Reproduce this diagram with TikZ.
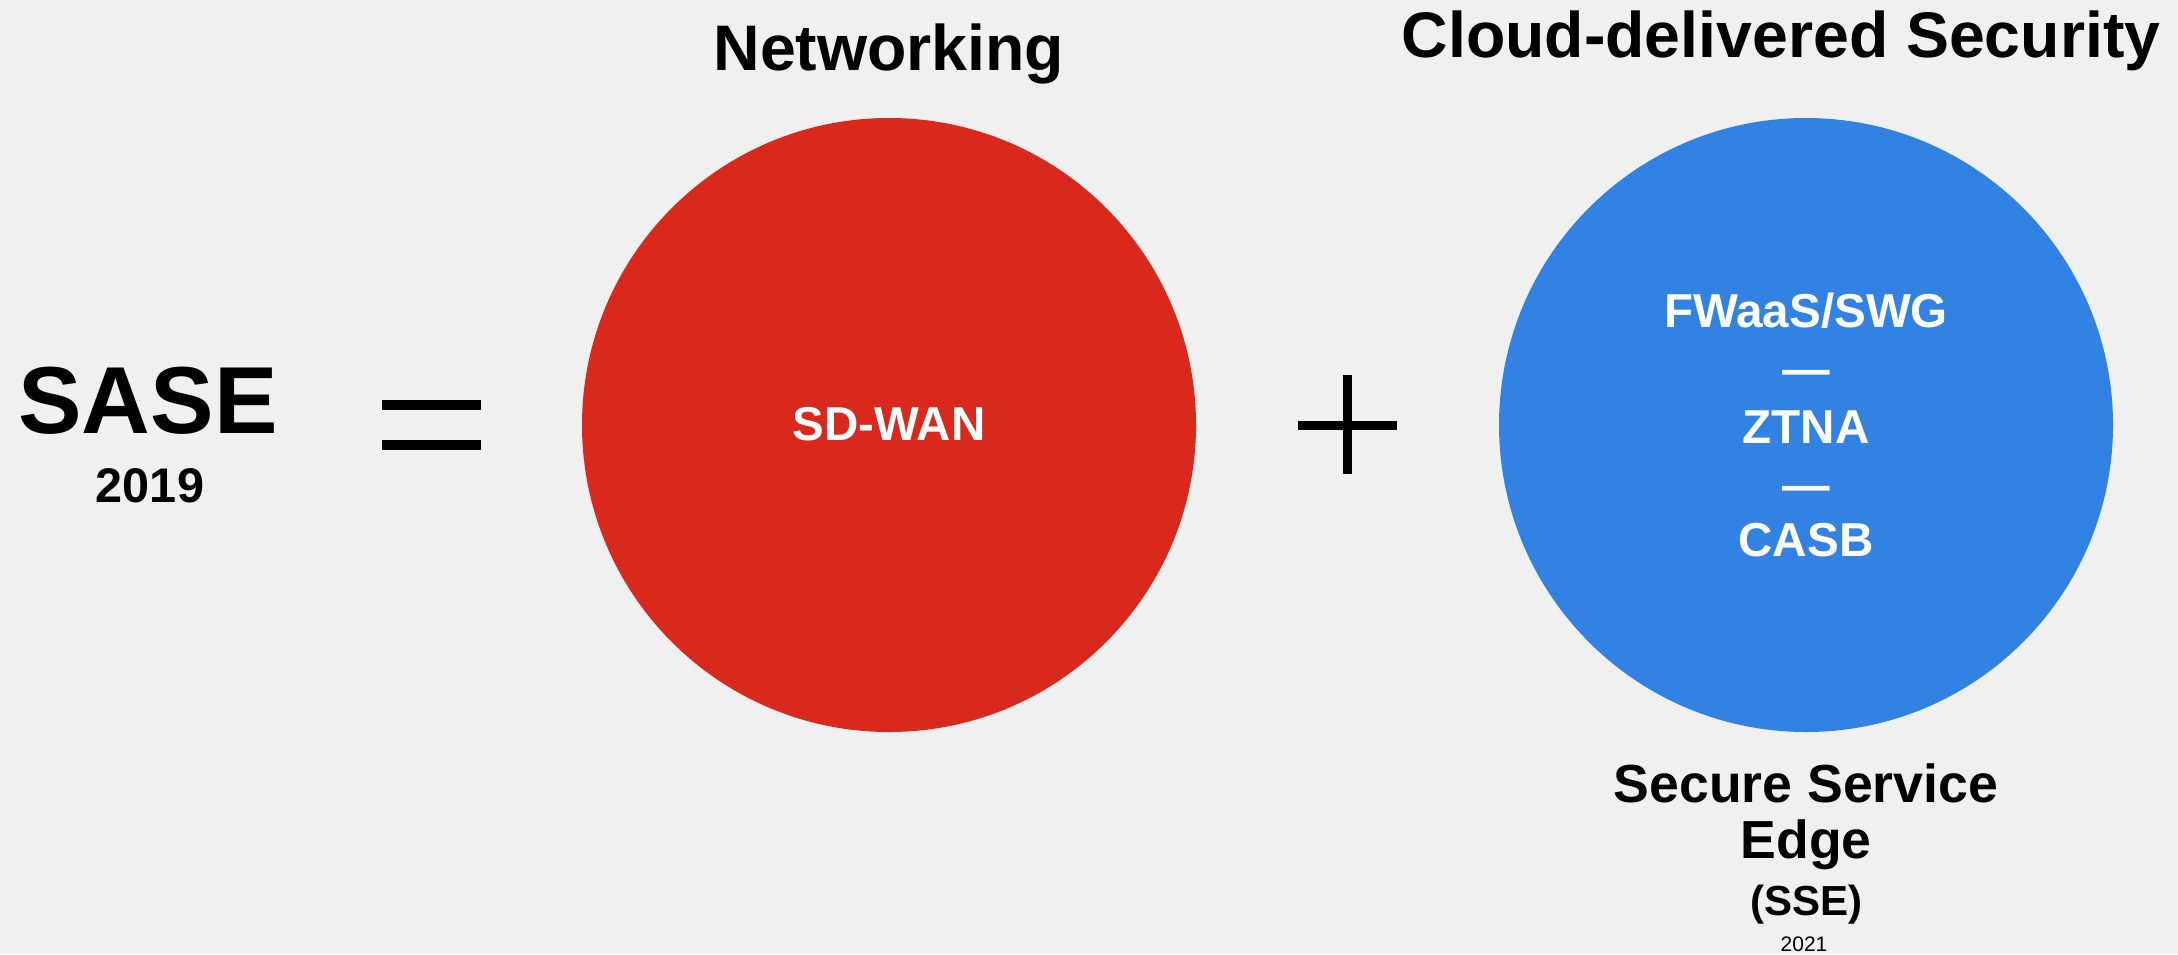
\documentclass[tikz,border=0pt]{standalone}
\usepackage{fontspec}
\setmainfont{Liberation Sans}
\definecolor{bg}{HTML}{F0F0F0}
\definecolor{sred}{HTML}{D9291D}
\definecolor{sblue}{HTML}{3282E4}
\begin{document}
\begin{tikzpicture}[x=0.5pt,y=-0.5pt,
  txt/.style={anchor=base, inner sep=0pt, font=\bfseries\fontsize{#1}{#1}\selectfont},
  wtxt/.style={txt=#1, text=white},
  disc/.style={circle, inner sep=0pt, minimum size=307pt, draw=none},
  bar/.style={fill=black}]
\fill[bg] (0,0) rectangle (2178,954);
\useasboundingbox (0,0) rectangle (2178,954);
% left side
\node[txt=47.6pt] (sase) at (148,433) {SASE};
\node[txt=24.3pt] (y2019) at (150,502) {2019};
% equals sign
\fill[bar] (382,400) rectangle (481,410);
\fill[bar] (382,440) rectangle (481,449.5);
% networking circle
\node[disc, fill=sred] (net) at (889,425) {};
\node[txt=32.2pt] (nettitle) at (889,70) {Networking};
\node[wtxt=23.75pt] (sdwan) at (889,440) {SD-WAN};
% plus sign
\fill[bar] (1298,420.5) rectangle (1397,429.5);
\fill[bar] (1343,375) rectangle (1352,474);
% security circle
\node[disc, fill=sblue] (sec) at (1806,425) {};
\node[txt=32.2pt] (sectitle) at (1781,57) {Cloud-delivered Security};
\node[wtxt=23.8pt] (fwaas) at (1806,327) {FWaaS/SWG};
\node[wtxt=23.8pt] (d1) at (1806,385) {—};
\node[wtxt=23.8pt] (ztna) at (1806,443) {ZTNA};
\node[wtxt=23.8pt] (d2) at (1806,501) {—};
\node[wtxt=23.8pt] (casb) at (1806,556) {CASB};
% SSE caption
\node[txt=26.8pt] (sse1) at (1806,802) {Secure Service};
\node[txt=26.8pt] (sse2) at (1806,858) {Edge};
\node[txt=21pt] (sse3) at (1806,915) {(SSE)};
\node[anchor=base, inner sep=0pt, font=\fontsize{10.5pt}{10.5pt}\selectfont] (y2021) at (1804,951) {2021};
\end{tikzpicture}
\end{document}
